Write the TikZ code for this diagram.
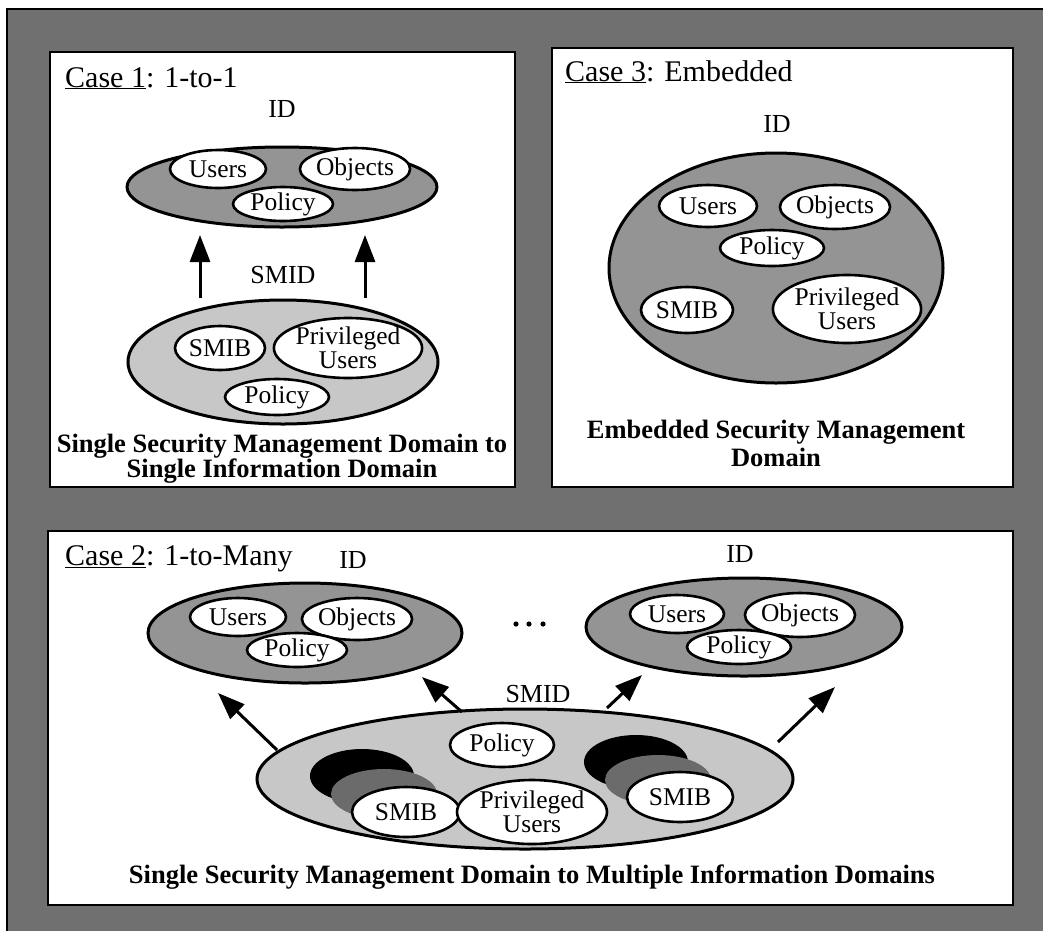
\documentclass[tikz,border=0pt]{standalone}
\usepackage{fontspec}
\setmainfont{Liberation Serif}
\usetikzlibrary{shapes.geometric,arrows.meta}

\begin{document}
\begin{tikzpicture}[x=1pt,y=-1pt,
  frame/.style={fill=black!56,draw=black,line width=2pt},
  panel/.style={fill=white,draw=black,line width=2.2pt},
  sz/.style n args={2}{minimum width=#1pt,minimum height=#2pt},
  dom/.style={ellipse,draw=black,line width=3pt,inner sep=0pt},
  iddom/.style={dom,fill=black!42},
  smdom/.style={dom,fill=black!22},
  item/.style={ellipse,draw=black,line width=2.6pt,fill=white,inner sep=0pt,
    align=center,font=\fontsize{25.5}{24}\selectfont},
  shadowA/.style={ellipse,fill=black,inner sep=0pt},
  shadowB/.style={ellipse,fill=black!58,inner sep=0pt},
  casetxt/.style={anchor=base west,inner sep=0pt,font=\fontsize{30}{32}\selectfont},
  lbl/.style={anchor=base,inner sep=0pt,font=\fontsize{26}{28}\selectfont},
  captxt/.style={anchor=base,inner sep=0pt,font=\fontsize{26.5}{28}\selectfont\bfseries},
  arr/.style={line width=3pt,-{Triangle[length=27pt,width=20pt]}}
]
\useasboundingbox (0,0) rectangle (1043,930);
\clip (0,0) rectangle (1043,930);
\fill[white] (0,0) rectangle (1043,930);

% outer shaded frame and the three white panels
\draw[frame] (7,9) rectangle (1060,945);
\draw[panel] (50,52) rectangle (515,487);
\draw[panel] (552,48) rectangle (1013,487);
\draw[panel] (48,531) rectangle (1013,905);

% ---------- Case 1: one-to-one ----------
\node[casetxt] (c1) at (65,87) {\underline{Case 1}: 1-to-1};
\node[lbl] (c1id) at (282,117) {ID};
\node[iddom,sz={310}{80}] (c1dom) at (282,187) {};
\node[item,sz={96}{38}] (c1u) at (218,169) {Users};
\node[item,sz={94}{42}] (c1o) at (355,169) {Objects};
\node[item,sz={100}{34}] (c1p) at (283,204) {Policy};

\node[lbl] (c1smid) at (283,283) {SMID};
\node[smdom,sz={310}{124}] (c1sm) at (283,362) {};
\node[item,sz={90}{44}] (c1smib) at (220,348) {SMIB};
\node[item,sz={140}{60}] (c1pu) at (348,348) {Privileged\\Users};
\node[item,sz={104}{36}] (c1sp) at (277,397) {Policy};

\coordinate (c1a1s) at (200,298);
\coordinate (c1a1e) at (200,235);
\coordinate (c1a2s) at (365,298);
\coordinate (c1a2e) at (365,235);
\draw[arr] (c1a1s) -- (c1a1e);
\draw[arr] (c1a2s) -- (c1a2e);

\node[captxt] (c1cap1) at (282,452) {Single Security Management Domain to};
\node[captxt] (c1cap2) at (282,477) {Single Information Domain};

% ---------- Case 3: embedded ----------
\node[casetxt] (c3) at (565,81) {\underline{Case 3}: Embedded};
\node[lbl] (c3id) at (777,132) {ID};
\node[iddom,sz={334}{230}] (c3dom) at (776,268) {};
\node[item,sz={98}{42}] (c3u) at (708,206) {Users};
\node[item,sz={104}{44}] (c3o) at (835,207) {Objects};
\node[item,sz={104}{36}] (c3p) at (772,248) {Policy};
\node[item,sz={92}{46}] (c3smib) at (687,310) {SMIB};
\node[item,sz={144}{68}] (c3pu) at (847,309) {Privileged\\Users};

\node[captxt] (c3cap1) at (776,438) {Embedded Security Management};
\node[captxt] (c3cap2) at (776,466) {Domain};

% ---------- Case 2: one-to-many ----------
\node[casetxt] (c2) at (65,565) {\underline{Case 2}: 1-to-Many};
\node[lbl] (c2idl) at (353,568) {ID};
\node[lbl] (c2idr) at (740,562) {ID};

\node[iddom,sz={314}{100}] (c2l) at (305,633) {};
\node[item,sz={96}{38}] (c2lu) at (238,617) {Users};
\node[item,sz={98}{42}] (c2lo) at (357,619) {Objects};
\node[item,sz={100}{34}] (c2lp) at (297,650) {Policy};

\node[iddom,sz={316}{98}] (c2r) at (744,627) {};
\node[item,sz={94}{38}] (c2ru) at (677,614) {Users};
\node[item,sz={96}{44}] (c2ro) at (800,615) {Objects};
\node[item,sz={104}{34}] (c2rp) at (739,647) {Policy};

\fill (516,624) circle (2.6);
\fill (529,624) circle (2.6);
\fill (543,624) circle (2.6);

\node[lbl] (c2smid) at (538,702) {SMID};
\node[smdom,sz={536}{140}] (c2sm) at (525,779) {};

% stacked SMIBs, each with two copies behind it
\node[shadowA,sz={104}{54}] (c2k1) at (362,776) {};
\node[shadowB,sz={106}{50}] (c2g1) at (384,794) {};
\node[item,sz={108}{50}] (c2smib1) at (406,812) {SMIB};
\node[shadowA,sz={104}{54}] (c2k2) at (636,762) {};
\node[shadowB,sz={106}{50}] (c2g2) at (658,780) {};
\node[item,sz={106}{50}] (c2smib2) at (680,797) {SMIB};

\node[item,sz={104}{44}] (c2sp) at (502,745) {Policy};
\node[item,sz={150}{64}] (c2pu) at (532,812) {Privileged\\Users};

\coordinate (c2a1s) at (277,750);
\coordinate (c2a1e) at (218,693);
\coordinate (c2a2s) at (462,712);
\coordinate (c2a2e) at (422,677);
\coordinate (c2a3s) at (607,708);
\coordinate (c2a3e) at (642,675);
\coordinate (c2a4s) at (778,742);
\coordinate (c2a4e) at (835,687);
\draw[arr] (c2a1s) -- (c2a1e);
\draw[arr] (c2a2s) -- (c2a2e);
\draw[arr] (c2a3s) -- (c2a3e);
\draw[arr] (c2a4s) -- (c2a4e);

\node[captxt] (c2cap) at (532,883) {Single Security Management Domain to Multiple Information Domains};
\end{tikzpicture}
\end{document}
